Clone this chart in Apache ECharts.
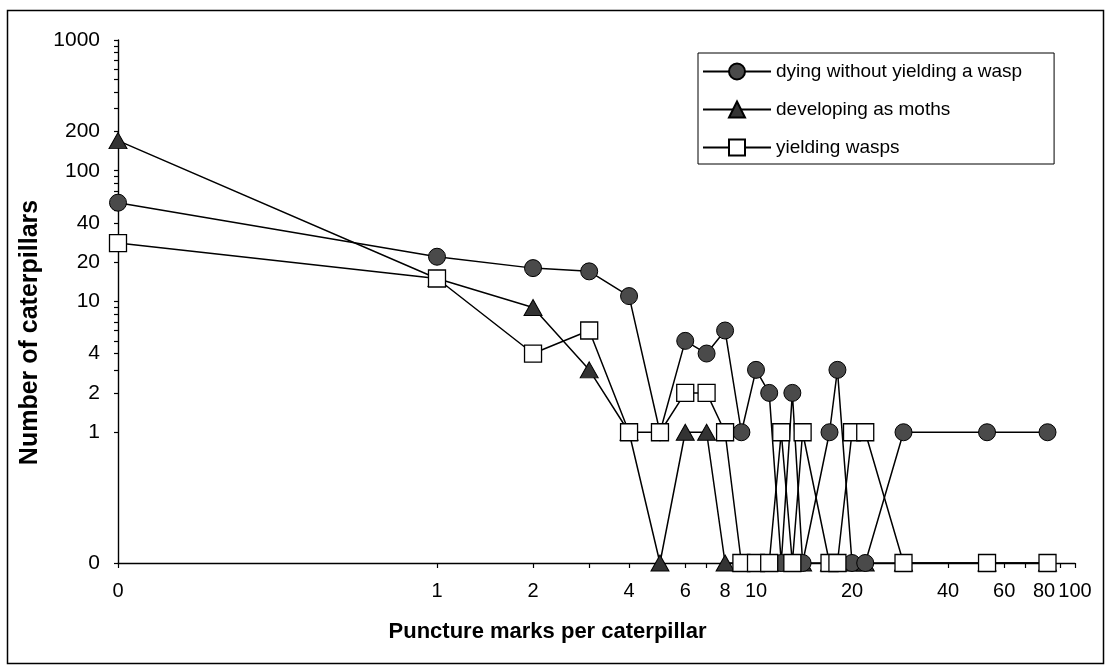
<!DOCTYPE html>
<html>
<head>
<meta charset="utf-8">
<script src="https://cdn.jsdelivr.net/npm/echarts@6/dist/echarts.min.js"></script>
<style>
  html, body { margin: 0; padding: 0; background: #fff; }
  #chart { width: 1109px; height: 671px; }
</style>
</head>
<body>
<div id="chart"></div>
<script>
// Puncture marks per caterpillar (x) and caterpillar counts per outcome
const punctures = [0, 1, 2, 3, 4, 5, 6, 7, 8, 9, 10, 11, 12, 13, 14, 17, 18, 20, 22, 29, 53, 82];
const dying     = [57, 22, 18, 17, 11, 1, 5, 4, 6, 1, 3, 2, 0, 2, 0, 1, 3, 0, 0, 1, 1, 1];
const moths     = [170, 15, 9, 3, 1, 0, 1, 1, 0, 0, 0, 0, 0, 0, 0, 0, 0, 0, 0, 0, 0, 0];
const wasps     = [28, 15, 4, 6, 1, 1, 2, 2, 1, 0, 0, 0, 1, 0, 1, 0, 0, 1, 1, 0, 0, 0];

// Axis labels and tick marks
const xTickLabels = [0, 1, 2, 4, 6, 8, 10, 20, 40, 60, 80, 100];
const yTickLabels = [0, 1, 2, 4, 10, 20, 40, 100, 200, 1000];
const xTickMarks = [0, 1, 2, 3, 4, 5, 6, 7, 8, 9, 10, 20, 30, 40, 50, 60, 70, 80, 90, 100];
const yTickMarks = [0, 1, 2, 3, 4, 5, 6, 7, 8, 9, 10, 20, 30, 40, 50, 60, 70, 80, 90, 100,
                    200, 300, 400, 500, 600, 700, 800, 900, 1000];

// Both axes are logarithmic; a zero is shown one decade below 1
const ZERO_AT = 0.1;
const place = v => (v === 0 ? ZERO_AT : v);
const fmt = v => (Math.abs(v - ZERO_AT) < 1e-9 ? '0' : String(Math.round(v)));

const FONT = '"Liberation Sans", Arial, Helvetica, sans-serif';
const lineStyle = { color: '#000', width: 1.5 };

function pairs(values) {
  return punctures.map((x, i) => [place(x), place(values[i])]);
}

const chart = echarts.init(document.getElementById('chart'), null, { renderer: 'canvas' });

chart.setOption({
  animation: false,
  backgroundColor: '#fff',
  textStyle: { fontFamily: FONT, color: '#000' },
  grid: { left: 118, right: 34, top: 40, bottom: 108, containLabel: false, outerBoundsMode: 'none' },
  graphic: [{
    type: 'rect',
    silent: true,
    shape: { x: 7.5, y: 10.5, width: 1096, height: 653 },
    style: { fill: 'none', stroke: '#000', lineWidth: 1.5 }
  }],
  legend: {
    orient: 'vertical',
    left: 698,
    top: 53,
    padding: [9, 32, 7, 4],
    itemGap: 19,
    itemWidth: 68,
    itemHeight: 20,
    borderColor: '#000',
    borderWidth: 1,
    backgroundColor: '#fff',
    textStyle: { fontFamily: FONT, fontSize: 19, color: '#000' },
    data: ['dying without yielding a wasp', 'developing as moths', 'yielding wasps']
  },
  xAxis: {
    type: 'log',
    logBase: 10,
    min: ZERO_AT,
    max: 100,
    name: 'Puncture marks per caterpillar',
    nameLocation: 'middle',
    nameGap: 58,
    nameTextStyle: { fontFamily: FONT, fontSize: 22, fontWeight: 'bold', color: '#000', padding: [0, 98, 0, 0] },
    axisLine: { show: true, lineStyle: { color: '#000', width: 1.4 } },
    axisTick: { show: true, length: 5, lineStyle: { color: '#000', width: 1.2 },
                customValues: xTickMarks.map(place) },
    axisLabel: { show: true, margin: 18, fontSize: 20, fontFamily: FONT, color: '#000',
                 customValues: xTickLabels.map(place), formatter: fmt },
    splitLine: { show: false },
    minorTick: { show: false }
  },
  yAxis: {
    type: 'log',
    logBase: 10,
    min: ZERO_AT,
    max: 1000,
    name: 'Number of caterpillars',
    nameLocation: 'middle',
    nameGap: 64,
    nameTextStyle: { fontFamily: FONT, fontSize: 25, fontWeight: 'bold', color: '#000', padding: [0, 62, 0, 0] },
    axisLine: { show: true, lineStyle: { color: '#000', width: 1.4 } },
    axisTick: { show: true, length: 4, lineStyle: { color: '#000', width: 1.2 },
                customValues: yTickMarks.map(place) },
    axisLabel: { show: true, margin: 18, fontSize: 21, fontFamily: FONT, color: '#000',
                 customValues: yTickLabels.map(place), formatter: fmt },
    splitLine: { show: false },
    minorTick: { show: false }
  },
  // moths first so their zero markers sit beneath the other outcomes
  series: [
    {
      name: 'developing as moths',
      type: 'line',
      data: pairs(moths),
      symbol: 'triangle',
      symbolSize: [18, 16],
      showAllSymbol: true,
      itemStyle: { color: '#333', borderColor: '#000', borderWidth: 1 },
      lineStyle: lineStyle,
      emphasis: { disabled: true }
    },
    {
      name: 'dying without yielding a wasp',
      type: 'line',
      data: pairs(dying),
      symbol: 'circle',
      symbolSize: 17,
      showAllSymbol: true,
      itemStyle: { color: '#4a4a4a', borderColor: '#000', borderWidth: 1 },
      lineStyle: lineStyle,
      emphasis: { disabled: true }
    },
    {
      name: 'yielding wasps',
      type: 'line',
      data: pairs(wasps),
      symbol: 'rect',
      symbolSize: 17,
      showAllSymbol: true,
      itemStyle: { color: '#fff', borderColor: '#000', borderWidth: 1.3 },
      lineStyle: lineStyle,
      emphasis: { disabled: true }
    }
  ]
});
</script>
</body>
</html>
